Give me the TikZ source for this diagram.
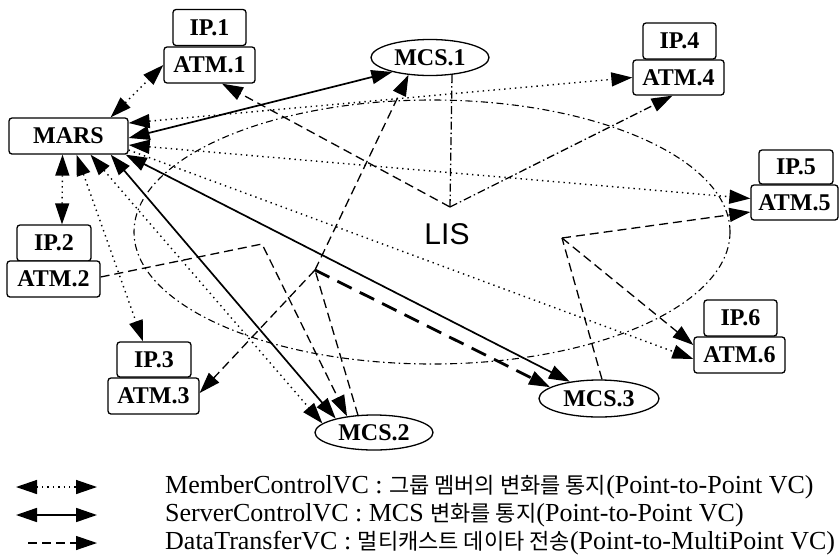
\documentclass[tikz,border=0pt]{standalone}
\usepackage{fontspec}
\setmainfont{Liberation Serif}
\newfontfamily\krfont{Noto Sans CJK KR}
\newfontfamily\lisfont{Liberation Sans}
\usetikzlibrary{arrows.meta,shapes.geometric,calc}
\newcommand{\kr}[1]{{\krfont\fontsize{22}{22}\selectfont #1}}
\tikzset{
  >={Triangle[length=21pt,width=14pt]},
  boxnode/.style={draw, rounded corners=3pt, line width=1.3pt, fill=white, inner sep=0pt, font={\fontsize{24}{24}\selectfont\bfseries}},
  ovalnode/.style={ellipse, draw, line width=1.3pt, fill=white, inner sep=0pt, font={\fontsize{24}{24}\selectfont\bfseries}},
  srv/.style={line width=1.7pt},
  mem/.style={line width=1.4pt, dash pattern=on 1.4pt off 4pt},
  dat/.style={line width=1.3pt, dash pattern=on 9pt off 5pt},
  datdot/.style={line width=1.3pt, dash pattern=on 8pt off 3pt on 1.5pt off 3pt},
  datbold/.style={line width=2.8pt, dash pattern=on 16pt off 9pt},
  lisline/.style={line width=1.1pt, dash pattern=on 7pt off 3.5pt on 1.5pt off 3.5pt},
  legtext/.style={anchor=west, inner sep=0pt, font={\fontsize{26}{26}\selectfont}},
}
\begin{document}
\begin{tikzpicture}[x=1pt,y=-1pt]
\useasboundingbox (0,0) rectangle (840,555);

% LIS area
\node[ellipse, lisline, draw, minimum width=596pt, minimum height=264pt, inner sep=0pt] (lisarea) at (432,232) {};
\node[font={\lisfont\fontsize{30}{30}\selectfont}, inner sep=0pt] (lis) at (447,234) {LIS};

% nodes
\node[boxnode, minimum width=73pt, minimum height=36pt] (ip1) at (209.5,27.5) {IP.1};
\node[boxnode, minimum width=91pt, minimum height=36pt] (atm1) at (209.5,65) {ATM.1};
\node[boxnode, minimum width=119pt, minimum height=36pt] (mars) at (68.5,136) {MARS};
\node[ovalnode, minimum width=118pt, minimum height=36pt] (mcs1) at (430,57.5) {MCS.1};
\node[boxnode, minimum width=73pt, minimum height=36pt] (ip4) at (679.5,41) {IP.4};
\node[boxnode, minimum width=91pt, minimum height=35pt] (atm4) at (678.5,77.5) {ATM.4};
\node[boxnode, minimum width=74pt, minimum height=34pt] (ip5) at (796,167) {IP.5};
\node[boxnode, minimum width=87pt, minimum height=35pt] (atm5) at (794.5,202.5) {ATM.5};
\node[boxnode, minimum width=74pt, minimum height=36pt] (ip2) at (54,243) {IP.2};
\node[boxnode, minimum width=93pt, minimum height=36pt] (atm2) at (53.5,279) {ATM.2};
\node[boxnode, minimum width=74pt, minimum height=35pt] (ip3) at (154,359.5) {IP.3};
\node[boxnode, minimum width=91pt, minimum height=36pt] (atm3) at (153.5,396) {ATM.3};
\node[boxnode, minimum width=73pt, minimum height=36pt] (ip6) at (740.5,318) {IP.6};
\node[boxnode, minimum width=91pt, minimum height=36pt] (atm6) at (739.5,355) {ATM.6};
\node[ovalnode, minimum width=118pt, minimum height=35pt] (mcs2) at (374,432.5) {MCS.2};
\node[ovalnode, minimum width=120pt, minimum height=37pt] (mcs3) at (599,398.5) {MCS.3};

% branch points
\coordinate (b1) at (450,207);
\coordinate (b2) at (315,270);
\coordinate (b3) at (562,238);
\coordinate (c2) at (262,244);

% ServerControlVC (solid)
\draw[srv,<->] ($(mars.east)+(0,2)$) -- (mcs1.201);
\draw[srv,<->] ($(mars.south east)+(-18,0)$) -- (mcs2.160);
\draw[srv,<->] ($(mars.south east)+(-3,0)$) -- (mcs3.150);

% MemberControlVC (dotted)
\draw[mem,<->] ($(mars.north east)+(-18,0)$) -- (atm1.west);
\draw[mem,<->] ($(mars.south)+(-6,0)$) -- ($(ip2.north)+(8,0)$);
\draw[mem,<->] ($(mars.south)+(8,0)$) -- ($(ip3.north)+(-11,0)$);
\draw[mem,<->] ($(mars.south)+(22,0)$) -- (mcs2.170);
\draw[mem,<->] ($(mars.east)+(0,-13)$) -- (atm4.west);
\draw[mem,<->] ($(mars.east)+(0,9)$) -- ($(atm5.west)+(0,-4)$);
\draw[mem,->] ($(mars.east)+(0,14)$) -- ($(atm6.west)+(0,4)$);

% DataTransferVC (dashed) - MCS.1 tree
\draw[datdot] ($(mcs1.south)+(22,-1)$) -- (b1);
\draw[dat,->] (b1) -- ($(atm1.south)+(12.5,0)$);
\draw[datdot,->] (b1) -- ($(atm4.south)+(-6,0)$);

% MCS.2 tree
\draw[dat] ($(mcs2.north)+(-16,1)$) -- (b2);
\draw[dat,->] (b2) -- (mcs1.219);
\draw[dat,->] (b2) -- ($(atm3.east)+(0,-3)$);
\draw[datbold,->] (b2) -- (mcs3.167);

% ATM.2 to MCS.2
\draw[dat,->] ($(atm2.east)+(0,-2)$) -- (c2) -- (mcs2.149);

% MCS.3 tree
\draw[dat] ($(mcs3.north)+(3,0)$) -- (b3);
\draw[dat,->] (b3) -- ($(atm5.west)+(0,9.5)$);
\draw[dat,->] (b3) -- ($(atm6.west)+(0,-10)$);

% legend
\coordinate (l1a) at (16,487); \coordinate (l1b) at (97,487);
\coordinate (l2a) at (16,515); \coordinate (l2b) at (97,515);
\coordinate (l3a) at (28,543); \coordinate (l3b) at (97,543);
\draw[mem,<->] (l1a) -- (l1b);
\draw[srv,<->] (l2a) -- (l2b);
\draw[dat,->] (l3a) -- (l3b);
\node[legtext] (t1) at (165,487) {MemberControlVC : \kr{그룹 멤버의 변화를 통지}(Point-to-Point VC)};
\node[legtext] (t2) at (165,515) {ServerControlVC : MCS \kr{변화를 통지}(Point-to-Point VC)};
\node[legtext] (t3) at (165,543) {DataTransferVC : \kr{멀티캐스트 데이타 전송}(Point-to-MultiPoint VC)};
\end{tikzpicture}
\end{document}
